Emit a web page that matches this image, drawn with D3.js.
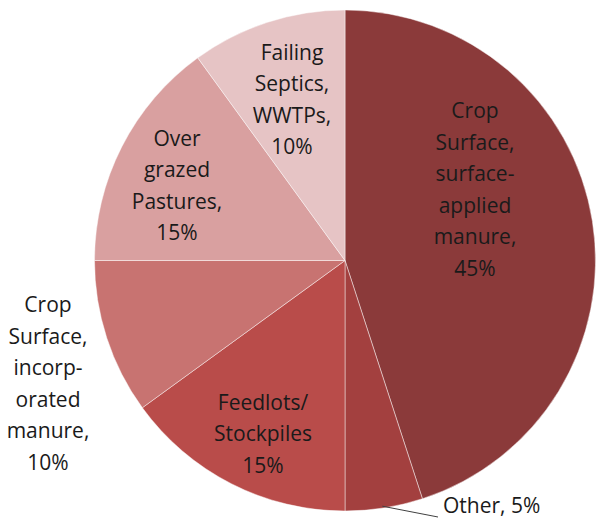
<!DOCTYPE html>
<html>
<head>
<meta charset="utf-8">
<script src="https://cdn.jsdelivr.net/npm/d3@7"></script>
<style>
  html, body { margin: 0; padding: 0; background: #fff; }
  svg { display: block; }
  text { font-family: "Open Sans", "Noto Sans", sans-serif; fill: #1a1a1a; }
</style>
</head>
<body>
<svg id="chart" width="599" height="518"></svg>
<script>
// Sources of loading, share of total (percent), clockwise from 12 o'clock
const categories = [
  "Crop Surface, surface-applied manure",
  "Other",
  "Feedlots/ Stockpiles",
  "Crop Surface, incorporated manure",
  "Over grazed Pastures",
  "Failing Septics, WWTPs"
];
const shares = [45, 5, 15, 10, 15, 10];
const colors = ["#8b3a3a", "#a3403f", "#b94c4a", "#c87371", "#d9a0a0", "#e6c4c5"];
// label text lines for each slice
const labelLines = [
  ["Crop", "Surface,", "surface-", "applied", "manure,", "45%"],
  ["Other, 5%"],
  ["Feedlots/", "Stockpiles", "15%"],
  ["Crop", "Surface,", "incorp-", "orated", "manure,", "10%"],
  ["Over", "grazed", "Pastures,", "15%"],
  ["Failing", "Septics,", "WWTPs,", "10%"]
];

// layout
const cx = 345, cy = 260.5, R = 250.5;
const lineH = 31.5;
const fontSize = 21;
// label block centres relative to the pie centre
const labelCenters = [
  [130, -71], null, [-82, 173], [-297, 123], [-168, -75], [-53, -161]
];

const svg = d3.select("#chart");
const g = svg.append("g").attr("transform", `translate(${cx},${cy})`);

const pie = d3.pie().sort(null).value(d => d)(shares);
const arc = d3.arc().innerRadius(0).outerRadius(R);

g.selectAll("path.slice")
  .data(pie)
  .join("path")
  .attr("class", "slice")
  .attr("d", arc)
  .attr("fill", (d, i) => colors[i])
  .attr("stroke", "rgba(255,255,255,0.45)")
  .attr("stroke-width", 1);

// in-slice / side labels
pie.forEach((d, i) => {
  const c = labelCenters[i];
  if (!c) return;
  const lines = labelLines[i];
  const t = g.append("text")
    .attr("text-anchor", "middle")
    .attr("font-size", fontSize);
  const firstBaseline = c[1] - (lines.length - 1) * lineH / 2 + fontSize * 0.36;
  lines.forEach((s, k) => {
    t.append("tspan").attr("x", c[0]).attr("y", firstBaseline + k * lineH).text(s);
  });
});

// "Other" label with leader line from the slice edge
const other = pie[1];
const aEdge = other.startAngle + (other.endAngle - other.startAngle) * 0.52;
const px = Math.sin(aEdge) * (R - 2), py = -Math.cos(aEdge) * (R - 2);
g.append("path")
  .attr("d", `M${px},${py} L93,256.5`)
  .attr("fill", "none")
  .attr("stroke", "#404040")
  .attr("stroke-width", 1);
g.append("text")
  .attr("x", 98)
  .attr("y", 252.5)
  .attr("font-size", fontSize)
  .text(labelLines[1][0]);
</script>
</body>
</html>
